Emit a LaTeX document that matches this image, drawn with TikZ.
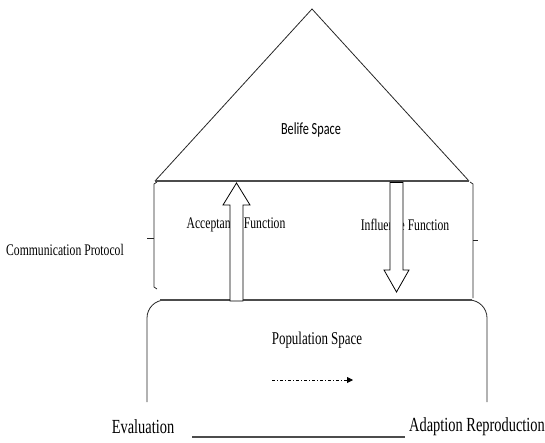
\documentclass[tikz,border=0pt]{standalone}
\usepackage{fontspec}
\usepackage{graphicx}
\setmainfont{Liberation Serif}
\newfontfamily\calib{Carlito}
\usetikzlibrary{arrows.meta}
\newcommand{\narrow}[1]{\scalebox{0.72}[1]{#1}}
\begin{document}
\begin{tikzpicture}[x=1pt,y=-1pt,
  lbl/.style={inner sep=0pt,font=\fontsize{16.2}{18}\selectfont},
  thin line/.style={line width=0.8pt,draw=black!85},
  heavy line/.style={line width=1.6pt,draw=black!70},
  hollow/.style={draw=black,line width=0.8pt,fill=white}]
\useasboundingbox (0,0) rectangle (545,443);
% Belief space triangle
\coordinate (apex) at (312,9);
\coordinate (bl) at (155,181);
\coordinate (br) at (469,181);
\draw[thin line] (bl) -- (apex) -- (br);
\draw[heavy line] (bl) -- (br);
\node[inner sep=0pt,font=\calib\fontsize{17}{19}\selectfont] (belief) at (311,130) {\narrow{Belife Space}};
% population box
\draw[thin line,rounded corners=18pt] (147,402) -- (147,300) -- (487,300) -- (487,402);
\draw[heavy line] (160,300) -- (472,300);
% brackets
\draw[thin line] (157,182) -- (154,184) -- (154,287) -- (157,289);
\draw[thin line] (147,238) -- (154,238);
\draw[thin line] (470,182) -- (473,184) -- (473,298);
\draw[thin line] (473,240) -- (478,240);
% labels
\node[lbl] (comm) at (65,250) {\narrow{Communication Protocol}};
\node[lbl] (acc) at (236,225) {\narrow{Acceptance Function}};
\node[lbl] (infl) at (405,225) {\narrow{Influence Function}};
% acceptance arrow (up)
\draw[hollow] (230,301) -- (230,205) -- (223,205) -- (236.5,183) -- (250,205) -- (243,205) -- (243,301) -- cycle;
% influence arrow (down)
\draw[hollow] (390,182) -- (390,270) -- (384,270) -- (396.5,292) -- (409,270) -- (403,270) -- (403,182) -- cycle;
\draw[line width=1.5pt] (390,182.5) -- (403,182.5);
% population space
\node[inner sep=0pt,font=\fontsize{18}{20}\selectfont] (pop) at (317,340) {\narrow{Population Space}};
\coordinate (da) at (272,380);
\coordinate (db) at (353,380);
\draw[line width=0.8pt,dash pattern=on 3pt off 2pt on 1pt off 2pt,-{Triangle[length=6pt,width=6pt]}] (da) -- (db);
% bottom
\node[inner sep=0pt,font=\fontsize{20}{22}\selectfont] (eval) at (143,427) {\narrow{Evaluation}};
\node[inner sep=0pt,font=\fontsize{20}{22}\selectfont,anchor=east] (adapt) at (545,427) {\narrow{Adaption Reproduction}};
\coordinate (la) at (192,437);
\coordinate (lb) at (405,437);
\draw[heavy line] (la) -- (lb);
\end{tikzpicture}
\end{document}
